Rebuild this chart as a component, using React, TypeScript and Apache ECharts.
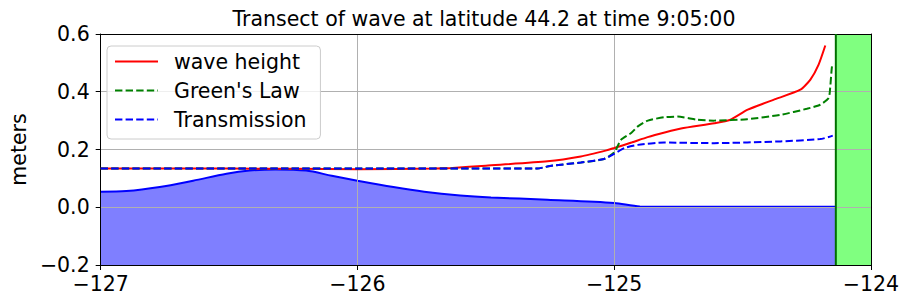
import React, { useEffect, useRef } from "react";
import * as echarts from "echarts";

const TITLE = "Transect of wave at latitude 44.2 at time 9:05:00";
const Y_NAME = "meters";
const SERIES_NAMES = ["wave height", "Green's Law", "Transmission"];

const X_MIN = -127;
const X_MAX = -124;
const Y_MIN = -0.2;
const Y_MAX = 0.6;

// coastline position
const LAND_X = -124.137;

// bathymetry-like profile (filled)
const bathX = [-127, -126.9, -126.77, -126.64, -126.51, -126.42, -126.32, -126.2, -126.1, -126.0, -125.86, -125.74, -125.6, -125.48, -125.26, -125.0, -124.9, -124.5, -124.137];
const bathY = [0.054, 0.056, 0.070, 0.092, 0.116, 0.127, 0.131, 0.127, 0.109, 0.092, 0.070, 0.054, 0.041, 0.034, 0.026, 0.015, 0.003, 0.002, 0.002];

// wave height
const waveX = [-127, -126.5, -126.0, -125.7, -125.63, -125.5, -125.26, -125.13, -125.03, -125.0, -124.93, -124.87, -124.8, -124.74, -124.61, -124.55, -124.48, -124.38, -124.275, -124.236, -124.204, -124.178];
const waveY = [0.134, 0.134, 0.132, 0.134, 0.136, 0.144, 0.159, 0.176, 0.197, 0.205, 0.225, 0.243, 0.260, 0.273, 0.291, 0.302, 0.338, 0.372, 0.407, 0.442, 0.494, 0.560];

// Green's law
const greenX = [-127, -126.0, -125.3, -125.25, -125.13, -125.04, -125.0, -124.973, -124.934, -124.908, -124.869, -124.805, -124.753, -124.676, -124.611, -124.482, -124.353, -124.25, -124.198, -124.165, -124.159, -124.152, -124.146];
const greenY = [0.134, 0.134, 0.134, 0.143, 0.155, 0.167, 0.19, 0.234, 0.257, 0.280, 0.300, 0.312, 0.314, 0.303, 0.300, 0.305, 0.320, 0.341, 0.355, 0.378, 0.413, 0.488, 0.499];

// Transmission
const transX = [-127, -126.0, -125.3, -125.25, -125.13, -125.04, -125.0, -124.96, -124.908, -124.805, -124.611, -124.353, -124.198, -124.165, -124.149];
const transY = [0.134, 0.134, 0.134, 0.143, 0.155, 0.167, 0.185, 0.205, 0.216, 0.224, 0.222, 0.228, 0.236, 0.243, 0.248];

const pairs = (xs: number[], ys: number[]) => xs.map((x, i) => [x, ys[i]]);
const minus = (s: string) => s.replace("-", "\u2212");

export default function App() {
  const ref = useRef<HTMLDivElement>(null);
  useEffect(() => {
    if (!ref.current) return;
    const chart = echarts.init(ref.current, null, { renderer: "svg" });
    const font = "DejaVu Sans";
    const fs = 20.5;
    const dash = [7.4, 3.2];
    const axisCommon = {
      type: "value",
      z: 2,
      axisLine: { show: true, onZero: false, lineStyle: { color: "#000", width: 1 } },
    };
    chart.setOption({
      animation: false,
      textStyle: { fontFamily: font },
      grid: { left: 97, right: 38, top: 34, bottom: 40, show: false },
      graphic: [
        {
          type: "text",
          x: 484,
          y: 18.5,
          style: {
            text: TITLE,
            fontSize: fs,
            fontFamily: font,
            fill: "#000",
            align: "center",
            verticalAlign: "middle",
          },
        },
      ],
      legend: {
        data: SERIES_NAMES,
        orient: "vertical",
        left: 107,
        top: 46,
        itemWidth: 43,
        itemHeight: 14,
        itemGap: 8,
        padding: [5, 14, 9, 7],
        backgroundColor: "rgba(255,255,255,0.8)",
        borderColor: "#cccccc",
        borderWidth: 1,
        borderRadius: 4,
        selectedMode: false,
        itemStyle: { opacity: 0 },
        textStyle: { fontSize: fs, color: "#000", fontFamily: font, padding: [0, 0, 0, 11] },
      },
      xAxis: [
        {
          ...axisCommon,
          position: "bottom",
          min: X_MIN,
          max: X_MAX,
          interval: 1,
          axisTick: { show: true, inside: false, length: 5, lineStyle: { color: "#000" } },
          axisLabel: {
            fontSize: fs,
            color: "#000",
            fontFamily: font,
            margin: 8,
            formatter: (v: number) => minus(String(v)),
          },
          splitLine: { show: true, lineStyle: { color: "#b0b0b0", width: 1 } },
        },
        {
          ...axisCommon,
          position: "top",
          min: X_MIN,
          max: X_MAX,
          interval: 1,
          axisTick: { show: false },
          axisLabel: { show: false },
          splitLine: { show: false },
        },
      ],
      yAxis: [
        {
          ...axisCommon,
          position: "left",
          min: Y_MIN,
          max: Y_MAX,
          interval: 0.2,
          name: Y_NAME,
          nameLocation: "middle",
          nameGap: 62,
          nameRotate: 90,
          nameTextStyle: { fontSize: fs, color: "#000", fontFamily: font },
          axisTick: { show: true, inside: false, length: 5, lineStyle: { color: "#000" } },
          axisLabel: {
            fontSize: fs,
            color: "#000",
            fontFamily: font,
            margin: 11,
            formatter: (v: number) => minus(v.toFixed(1)),
          },
          splitLine: { show: true, lineStyle: { color: "#b0b0b0", width: 1 } },
        },
        {
          ...axisCommon,
          position: "right",
          min: Y_MIN,
          max: Y_MAX,
          interval: 0.2,
          axisTick: { show: false },
          axisLabel: { show: false },
          splitLine: { show: false },
        },
      ],
      series: [
        {
          name: "bathymetry",
          type: "line",
          xAxisIndex: 0,
          yAxisIndex: 0,
          data: pairs(bathX, bathY),
          symbol: "none",
          smooth: 0.3,
          z: 1,
          silent: true,
          lineStyle: { color: "#0000ff", width: 2 },
          areaStyle: { color: "rgba(0,0,255,0.5)", origin: "start", opacity: 1 },
        },
        {
          name: "land",
          type: "line",
          data: pairs([LAND_X, X_MAX], [Y_MAX, Y_MAX]),
          symbol: "none",
          z: 1,
          silent: true,
          lineStyle: { width: 0, color: "#80ff80" },
          areaStyle: { color: "#80ff80", origin: "start", opacity: 1 },
        },
        {
          name: "coast",
          type: "line",
          data: pairs([LAND_X, LAND_X], [Y_MIN, Y_MAX]),
          symbol: "none",
          z: 2.5,
          silent: true,
          lineStyle: { width: 2, color: "#007000" },
        },
        {
          name: SERIES_NAMES[0],
          type: "line",
          data: pairs(waveX, waveY),
          symbol: "none",
          smooth: 0.2,
          z: 3,
          lineStyle: { color: "#ff0000", width: 2 },
          itemStyle: { color: "#ff0000" },
        },
        {
          name: SERIES_NAMES[1],
          type: "line",
          data: pairs(greenX, greenY),
          symbol: "none",
          smooth: 0.2,
          z: 3,
          lineStyle: { color: "#008000", width: 2, type: dash },
          itemStyle: { color: "#008000" },
        },
        {
          name: SERIES_NAMES[2],
          type: "line",
          data: pairs(transX, transY),
          symbol: "none",
          smooth: 0.2,
          z: 3,
          lineStyle: { color: "#0000ff", width: 2, type: dash },
          itemStyle: { color: "#0000ff" },
        },
      ],
    });
    return () => chart.dispose();
  }, []);
  return (
    <div
      ref={ref}
      style={{ position: "absolute", left: 0, top: 0, width: 909, height: 305 }}
    />
  );
}
